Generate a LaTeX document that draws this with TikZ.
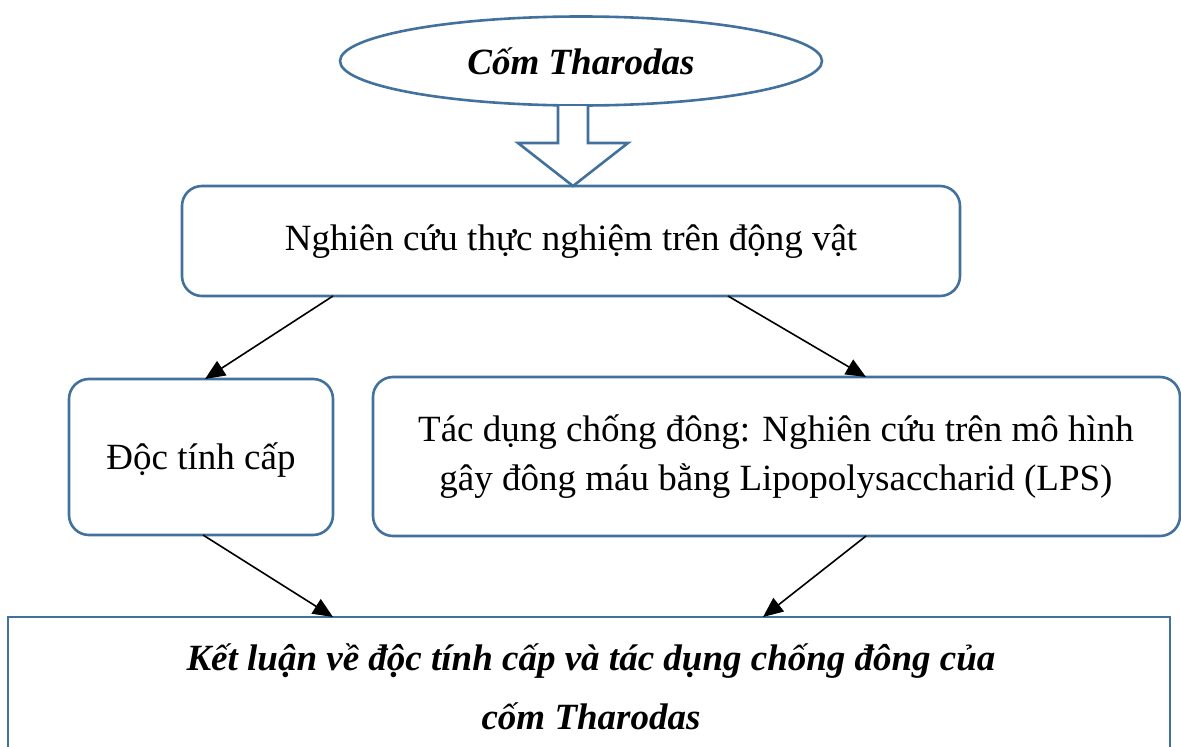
\documentclass[tikz,border=0pt]{standalone}
\usepackage{fontspec}
\setmainfont{Liberation Serif}
\usetikzlibrary{shapes.geometric,arrows.meta}
\definecolor{wblue}{HTML}{41719C}
\tikzset{
  box/.style={draw=wblue, line width=2.6pt, rounded corners=20pt},
  conn/.style={black, line width=1.6pt, -{Triangle[length=20pt,width=17pt]}},
  txt/.style={font=\fontsize{37}{44}\selectfont, align=center}
}
\begin{document}
\begin{tikzpicture}[x=1pt,y=-1pt]
\useasboundingbox (0,0) rectangle (1181,747);
\clip (0,0) rectangle (1181,747);
% ellipse
\node[draw=wblue, line width=2.6pt, ellipse, minimum width=482pt, minimum height=89pt, inner sep=0pt,
  font=\fontsize{37}{44}\selectfont\bfseries\itshape] (top) at (581,61) {Cốm Tharodas};
% block arrow
\draw[wblue, line width=2.6pt, line join=miter, fill=white] (558,106) -- (558,143) -- (518,143) -- (573,186) -- (628,143) -- (588,143) -- (588,106);
% box 1
\draw[box] (182,186) rectangle (960,296);
\node[txt] (b1) at (571,242) {Nghiên cứu thực nghiệm trên động vật};
\coordinate (b1l) at (333,296);
\coordinate (b1r) at (728,296);
% box 2
\draw[box] (69,379) rectangle (333,535);
\node[txt] (b2) at (201,460) {Độc tính cấp};
\coordinate (b2t) at (205,379);
\coordinate (b2b) at (203,535);
% box 3
\draw[box] (373,377) rectangle (1180,536);
\node[txt, font=\fontsize{37}{49}\selectfont] (b3) at (776,457) {Tác dụng chống đông: Nghiên cứu trên mô hình\\gây đông máu bằng Lipopolysaccharid (LPS)};
\coordinate (b3t) at (866,377);
\coordinate (b3b) at (866,536);
% box 4
\draw[draw=wblue, line width=2.6pt] (8,617) rectangle (1170,800);
\node[txt, font=\fontsize{37}{59}\selectfont\bfseries\itshape] (b4) at (591,687) {Kết luận về độc tính cấp và tác dụng chống đông của\\cốm Tharodas};
\coordinate (b4l) at (333,617);
\coordinate (b4r) at (763,617);
% connectors
\draw[conn] (b1l) -- (b2t);
\draw[conn] (b1r) -- (b3t);
\draw[conn] (b2b) -- (b4l);
\draw[conn] (b3b) -- (b4r);
\end{tikzpicture}
\end{document}
